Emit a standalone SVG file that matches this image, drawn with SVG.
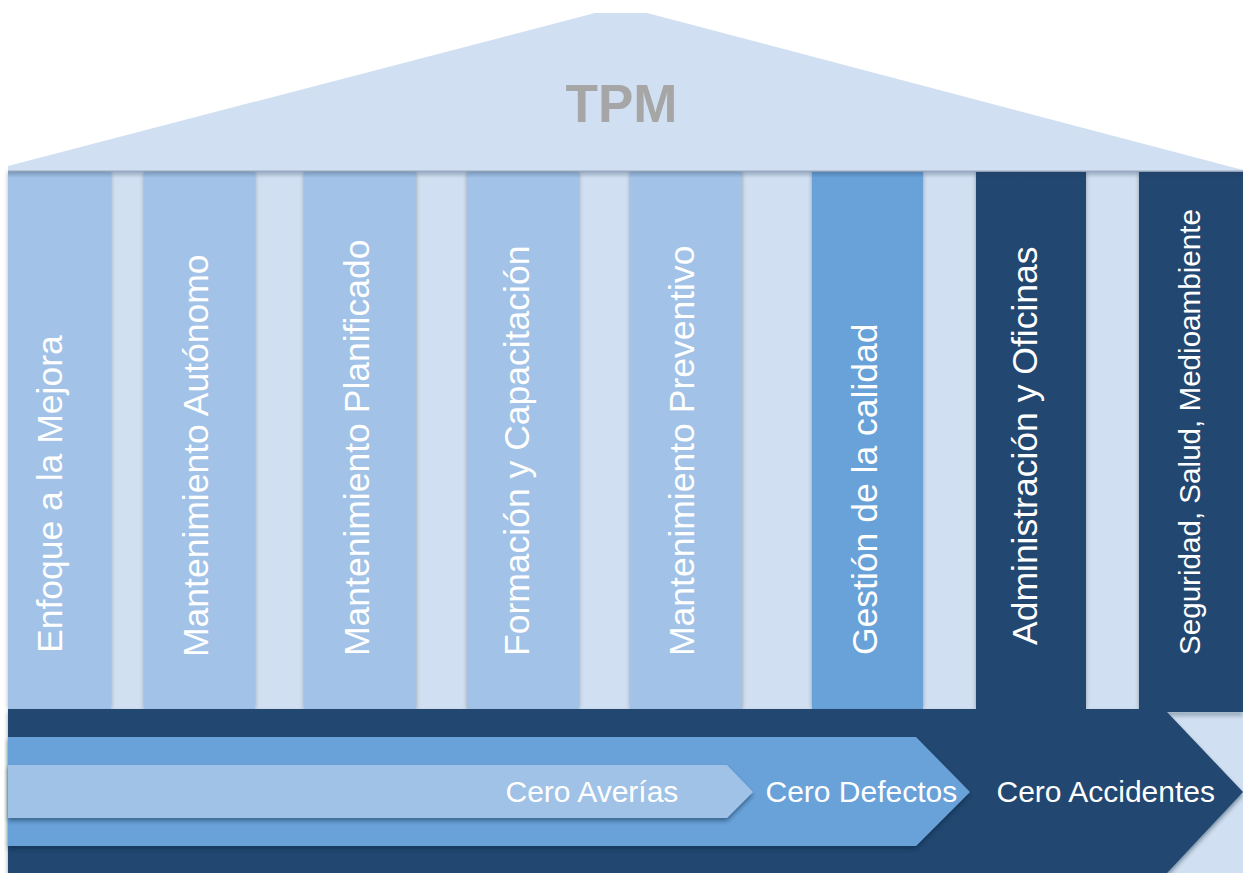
<svg xmlns="http://www.w3.org/2000/svg" width="1243" height="873" viewBox="0 0 1243 873">
  <defs>
    <style>
      .pale { fill: #D0DFF1; }
      .col-light { fill: #A2C3E7; }
      .col-mid { fill: #69A2D9; }
      .col-dark { fill: #22476F; }
      .label { font-family: "Liberation Sans", Arial, sans-serif; fill: #FFFFFF; }
      .pillar-label { font-size: 35.5px; }
      .goal-label { font-size: 30px; }
      .title { font-family: "Liberation Sans", Arial, sans-serif; font-weight: bold; font-size: 53px; fill: #A6A6A6; }
    </style>
    <filter id="sideShadow" x="-10%" y="-2%" width="120%" height="104%">
      <feDropShadow dx="0" dy="0" stdDeviation="2.2" flood-color="#000" flood-opacity="0.3"/>
    </filter>
    <filter id="dropShadow" x="-2%" y="-10%" width="104%" height="130%">
      <feDropShadow dx="0" dy="3" stdDeviation="2.2" flood-color="#0B2038" flood-opacity="0.45"/>
    </filter>
    <linearGradient id="eaveShade" x1="0" y1="0" x2="0" y2="1">
      <stop offset="0" stop-color="#1F3A5C" stop-opacity="0.35"/>
      <stop offset="1" stop-color="#1F3A5C" stop-opacity="0"/>
    </linearGradient>
  </defs>

  <!-- pale wall behind the pillars -->
  <rect class="pale" x="8" y="171" width="1235" height="540"/>

  <!-- pillars -->
  <g id="pillar-mejora">
    <rect class="col-light" x="8" y="172" width="103" height="537" filter="url(#sideShadow)"/>
    <text class="label pillar-label" transform="translate(62 653) rotate(-90)">Enfoque a la Mejora</text>
  </g>
  <g id="pillar-autonomo">
    <rect class="col-light" x="144" y="172" width="111" height="537" filter="url(#sideShadow)"/>
    <text class="label pillar-label" transform="translate(208 657) rotate(-90)">Mantenimiento Autónomo</text>
  </g>
  <g id="pillar-planificado">
    <rect class="col-light" x="304" y="172" width="112" height="537" filter="url(#sideShadow)"/>
    <text class="label pillar-label" transform="translate(369 656) rotate(-90)">Mantenimiento Planificado</text>
  </g>
  <g id="pillar-formacion">
    <rect class="col-light" x="467" y="172" width="112" height="537" filter="url(#sideShadow)"/>
    <text class="label pillar-label" transform="translate(529 656) rotate(-90)">Formación y Capacitación</text>
  </g>
  <g id="pillar-preventivo">
    <rect class="col-light" x="630" y="172" width="112" height="537" filter="url(#sideShadow)"/>
    <text class="label pillar-label" transform="translate(694 656) rotate(-90)">Mantenimiento Preventivo</text>
  </g>
  <g id="pillar-calidad">
    <rect class="col-mid" x="812" y="172" width="111" height="537" filter="url(#sideShadow)"/>
    <text class="label pillar-label" transform="translate(877 655) rotate(-90)">Gestión de la calidad</text>
  </g>
  <g id="pillar-administracion">
    <rect class="col-dark" x="976" y="172" width="110" height="537" filter="url(#sideShadow)"/>
    <text class="label pillar-label" transform="translate(1037 645) rotate(-90)">Administración y Oficinas</text>
  </g>
  <g id="pillar-seguridad">
    <rect class="col-dark" x="1139" y="172" width="104" height="537" filter="url(#sideShadow)"/>
    <text class="label" font-size="29.6" transform="translate(1200 655) rotate(-90)">Seguridad, Salud, Medioambiente</text>
  </g>

  <!-- shade cast by the roof -->
  <rect x="8" y="171" width="1235" height="7" fill="url(#eaveShade)"/>

  <!-- roof -->
  <g id="roof">
    <polygon class="pale" points="8,166 595,13 647,13 1243,170 1243,171 8,171"/>
    <line x1="8" y1="171" x2="1243" y2="171" stroke="#9AAAC0" stroke-width="1.2"/>
    <text class="title" x="621.5" y="122" text-anchor="middle">TPM</text>
  </g>

  <!-- foundation: nested goal arrows -->
  <g id="goals">
    <rect class="pale" x="1167" y="712" width="76" height="161"/>
    <g id="goal-accidentes">
      <polygon class="col-dark" points="8,709 1243,709 1243,712 1167,712 1243,792 1167,873 8,873" filter="url(#dropShadow)"/>
      <text class="label goal-label" x="996.5" y="802">Cero Accidentes</text>
    </g>
    <g id="goal-defectos">
      <polygon class="col-mid" points="8,737 916,737 970,792 916,846 8,846" filter="url(#dropShadow)"/>
      <text class="label goal-label" x="765.5" y="802">Cero Defectos</text>
    </g>
    <g id="goal-averias">
      <polygon fill="#A0C2E6" points="8,765 727,765 753,792 727,818 8,818" filter="url(#dropShadow)"/>
      <text class="label goal-label" x="505.5" y="802">Cero Averías</text>
    </g>
  </g>
</svg>
